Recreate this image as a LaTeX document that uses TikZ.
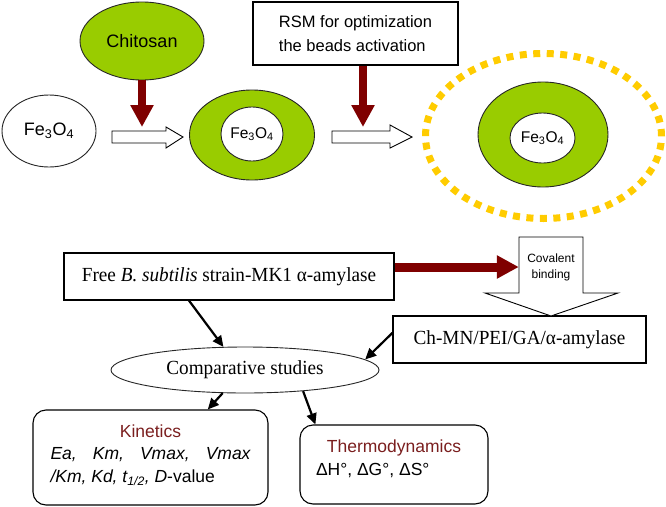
\documentclass[tikz,border=0pt]{standalone}
\usepackage{fontspec}
\setmainfont{Liberation Sans}
\newfontfamily\nserif[FakeStretch=0.96]{Liberation Serif}
\usetikzlibrary{arrows.meta,shapes.geometric}
\definecolor{lime}{HTML}{99CC00}
\definecolor{gold}{HTML}{FFCC00}
\definecolor{dred}{HTML}{7F0000}
\definecolor{tred}{HTML}{7A1E1E}
\begin{document}
\begin{tikzpicture}[x=1pt,y=-1pt,
  outl/.style={draw=black!85,line width=0.9pt},
  ell/.style={ellipse,outl,inner sep=0pt},
  sqbox/.style={draw=black,line width=1.1pt,inner sep=0pt},
  rbox/.style={draw=black,line width=1.1pt,rounded corners=13pt,inner sep=0pt},
  redarr/.style={draw=dred,line width=8pt,-{Triangle[length=22pt,width=22pt,fill=dred]}},
  blkarr/.style={draw=black,line width=2.2pt,-{Triangle[length=11pt,width=10pt]}},
  hollow/.style={draw=black,line width=0.9pt,fill=white},
  big/.style={font=\fontsize{18}{22}\selectfont},
  mid/.style={font=\fontsize{15.5}{19}\selectfont},
  serif/.style={font=\nserif\fontsize{20}{24}\selectfont},
]
\useasboundingbox (0,0) rectangle (666,506);

% ---- top row ----
\node[ell,fill=lime,minimum width=124pt,minimum height=78pt,big] (chit) at (142,41) {Chitosan};
\node[ell,fill=white,minimum width=94pt,minimum height=72pt,big] (fe1) at (49,131) {Fe\textsubscript{3}O\textsubscript{4}};

\node[ell,fill=lime,minimum width=125pt,minimum height=90pt] (ring1) at (252,135) {};
\node[ell,fill=white,minimum width=62pt,minimum height=54pt,mid] (core1) at (252,134) {Fe\textsubscript{3}O\textsubscript{4}};

\node[sqbox,minimum width=205pt,minimum height=63pt,align=left,font=\fontsize{16.5}{24}\selectfont] (rsm) at (355.5,33.5) {RSM for optimization\\the beads activation};

\draw[gold,line width=7pt,dash pattern=on 7pt off 6.5pt] (543.5,136) ellipse [x radius=118pt,y radius=82.5pt];
\node[ell,fill=lime,minimum width=130pt,minimum height=105pt] (ring2) at (543,134.5) {};
\node[ell,fill=white,minimum width=65pt,minimum height=50pt,mid] (core2) at (542.5,138) {Fe\textsubscript{3}O\textsubscript{4}};

% hollow arrows
\draw[hollow] (112,131) -- (166,131) -- (166,127) -- (183,137) -- (166,148) -- (166,143) -- (112,143) -- cycle;
\draw[hollow] (332,131) -- (390,131) -- (390,125) -- (412,137) -- (390,148) -- (390,143) -- (332,143) -- cycle;

% red down arrows
\coordinate (t1) at (142,127);
\coordinate (t2) at (363,127);
\draw[redarr] (chit.south) -- (t1);
\draw[redarr] (rsm.south -| t2) -- (t2);

% ---- bottom part ----
\node[sqbox,minimum width=330pt,minimum height=47pt,serif] (free) at (229,276.5) {Free \textit{B. subtilis} strain-MK1 α-amylase};
\node[sqbox,minimum width=253pt,minimum height=47pt,serif] (chmn) at (519.5,339.5) {Ch-MN/PEI/GA/α-amylase};

\draw[hollow] (519,237) -- (583,237) -- (583,293) -- (618,293) -- (551,316) -- (485,293) -- (519,293) -- cycle;
\node[minimum width=64pt,inner sep=0pt,align=center,font=\fontsize{12}{16}\selectfont] (cov) at (551,267) {Covalent\\binding};
\draw[redarr,line width=9pt] (free.east |- cov.west) -- (cov.west);

\node[ell,minimum width=268pt,minimum height=46pt,serif] (comp) at (245,370) {Comparative studies};

\node[rbox,minimum width=235pt,minimum height=95pt] (kin) at (150.5,457.5) {};
\node[align=center,inner sep=0pt,font=\fontsize{17.5}{22.5}\selectfont] (kintxt) at (150.5,455) {\textcolor{tred}{Kinetics}\\
 \makebox[200pt][s]{\itshape Ea, Km, Vmax, Vmax}\\
 \makebox[200pt][l]{\itshape /Km, Kd, t\textsubscript{1/2}, D\upshape -value}};

\node[rbox,minimum width=188pt,minimum height=79pt] (thermo) at (394,464.5) {};
\node[align=center,inner sep=0pt,font=\fontsize{17.5}{23}\selectfont] (thtxt) at (394,458.5) {\makebox[156pt][c]{\textcolor{tred}{Thermodynamics}}\\
 \makebox[156pt][l]{ΔH°, ΔG°, ΔS°}};

% black arrows
\draw[blkarr] (free.211) -- (comp.133);
\draw[blkarr] (chmn.177) -- (comp.5);
\draw[blkarr] (comp.226) -- (kin.40);
\draw[blkarr] (comp.340) -- (thermo.153);
\end{tikzpicture}
\end{document}
